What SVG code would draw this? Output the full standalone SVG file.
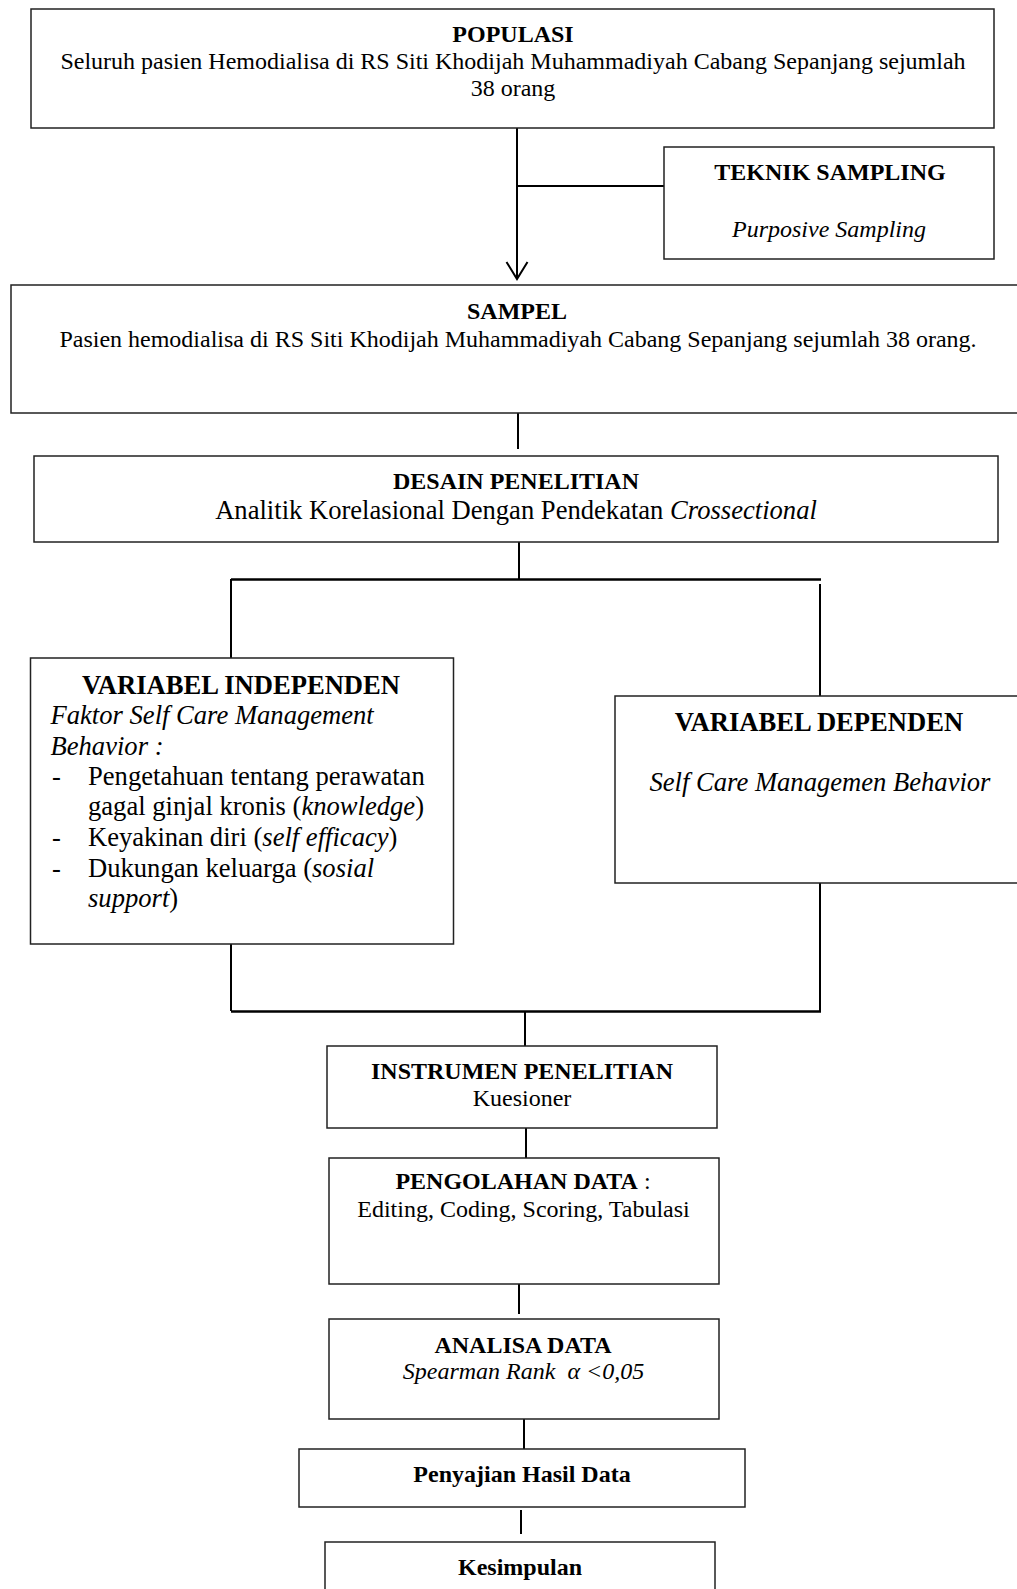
<svg xmlns="http://www.w3.org/2000/svg" width="1017" height="1589" viewBox="0 0 1017 1589">
<style>
.box{fill:#fff;stroke:#222;stroke-width:1.5}
.t{font-family:"Liberation Serif","Times New Roman",serif;font-size:24px;fill:#000}
.m{text-anchor:middle}
.b{font-weight:bold}
.i{font-style:italic}
.lg{font-size:26.6px}
.c{stroke:#000;stroke-width:2;fill:none}
.bar{stroke:#000;stroke-width:2.5;fill:none}
</style>
<rect width="1017" height="1589" fill="#fff"/>
<g id="connectors">
<line class="c" x1="517" y1="128" x2="517" y2="279"/>
<polyline class="c" points="506.5,262 517,279 527.5,262"/>
<line class="c" x1="517" y1="186" x2="664" y2="186"/>
<line class="c" x1="518" y1="413" x2="518" y2="449"/>
<line class="c" x1="519" y1="542" x2="519" y2="579"/>
<line class="bar" x1="231" y1="579.5" x2="821" y2="579.5"/>
<line class="c" x1="231" y1="579" x2="231" y2="658"/>
<line class="c" x1="820" y1="584" x2="820" y2="696"/>
<line class="c" x1="231" y1="944" x2="231" y2="1011"/>
<line class="c" x1="820" y1="883" x2="820" y2="1011"/>
<line class="bar" x1="231" y1="1011.5" x2="821" y2="1011.5"/>
<line class="c" x1="525" y1="1011" x2="525" y2="1046"/>
<line class="c" x1="526" y1="1123" x2="526" y2="1158"/>
<line class="c" x1="519" y1="1284" x2="519" y2="1314"/>
<line class="c" x1="524" y1="1419" x2="524" y2="1449"/>
<line class="c" x1="521" y1="1510" x2="521" y2="1534"/>
</g>
<g id="populasi">
<rect class="box" x="31" y="9" width="963" height="119"/>
<text class="t m b" x="513" y="41.5">POPULASI</text>
<text class="t m" x="513" y="69">Seluruh pasien Hemodialisa di RS Siti Khodijah Muhammadiyah Cabang Sepanjang sejumlah</text>
<text class="t m" x="513" y="96">38 orang</text>
</g>
<g id="teknik-sampling">
<rect class="box" x="664" y="147" width="330" height="112"/>
<text class="t m b" x="830" y="180">TEKNIK SAMPLING</text>
<text class="t m i" x="829" y="237">Purposive Sampling</text>
</g>
<g id="sampel">
<rect class="box" x="11" y="285" width="1020" height="128"/>
<text class="t m b" x="517" y="319">SAMPEL</text>
<text class="t m" x="518" y="346.5">Pasien hemodialisa di RS Siti Khodijah Muhammadiyah Cabang Sepanjang sejumlah 38 orang.</text>
</g>
<g id="desain-penelitian">
<rect class="box" x="34" y="456" width="964" height="86"/>
<text class="t m b" x="516" y="489">DESAIN PENELITIAN</text>
<text class="t m lg" x="516" y="519">Analitik Korelasional Dengan Pendekatan <tspan class="i">Crossectional</tspan></text>
</g>
<g id="variabel-independen">
<rect class="box" x="30.5" y="658" width="423" height="286"/>
<text class="t m b lg" x="241" y="694">VARIABEL INDEPENDEN</text>
<text class="t i lg" x="50.5" y="724">Faktor Self Care Management</text>
<text class="t i lg" x="50.5" y="755">Behavior :</text>
<text class="t lg" x="52" y="785">-</text>
<text class="t lg" x="88" y="785">Pengetahuan tentang perawatan</text>
<text class="t lg" x="88" y="815">gagal ginjal kronis (<tspan class="i">knowledge</tspan>)</text>
<text class="t lg" x="52" y="846">-</text>
<text class="t lg" x="88" y="846">Keyakinan diri (<tspan class="i">self efficacy</tspan>)</text>
<text class="t lg" x="52" y="876.5">-</text>
<text class="t lg" x="88" y="876.5">Dukungan keluarga (<tspan class="i">sosial</tspan></text>
<text class="t lg" x="88" y="907"><tspan class="i">support</tspan>)</text>
</g>
<g id="variabel-dependen">
<rect class="box" x="615" y="696" width="420" height="187"/>
<text class="t m b lg" x="819" y="730.5">VARIABEL DEPENDEN</text>
<text class="t m i lg" x="820" y="791">Self Care Managemen Behavior</text>
</g>
<g id="instrumen-penelitian">
<rect class="box" x="327" y="1046" width="390" height="82"/>
<text class="t m b" x="522" y="1079">INSTRUMEN PENELITIAN</text>
<text class="t m" x="522" y="1105.5">Kuesioner</text>
</g>
<g id="pengolahan-data">
<rect class="box" x="329" y="1158" width="390" height="126"/>
<text class="t m" x="523" y="1189"><tspan class="b">PENGOLAHAN DATA</tspan> :</text>
<text class="t m" x="523.5" y="1217">Editing, Coding, Scoring, Tabulasi</text>
</g>
<g id="analisa-data">
<rect class="box" x="329" y="1319" width="390" height="100"/>
<text class="t m b" x="523" y="1353">ANALISA DATA</text>
<text class="t m i" x="523.5" y="1379">Spearman Rank &#160;α &lt;0,05</text>
</g>
<g id="penyajian-hasil-data">
<rect class="box" x="299" y="1449" width="446" height="58"/>
<text class="t m b" x="522" y="1482">Penyajian Hasil Data</text>
</g>
<g id="kesimpulan">
<rect class="box" x="325" y="1542" width="390" height="60"/>
<text class="t m b" x="520" y="1575">Kesimpulan</text>
</g>
</svg>
